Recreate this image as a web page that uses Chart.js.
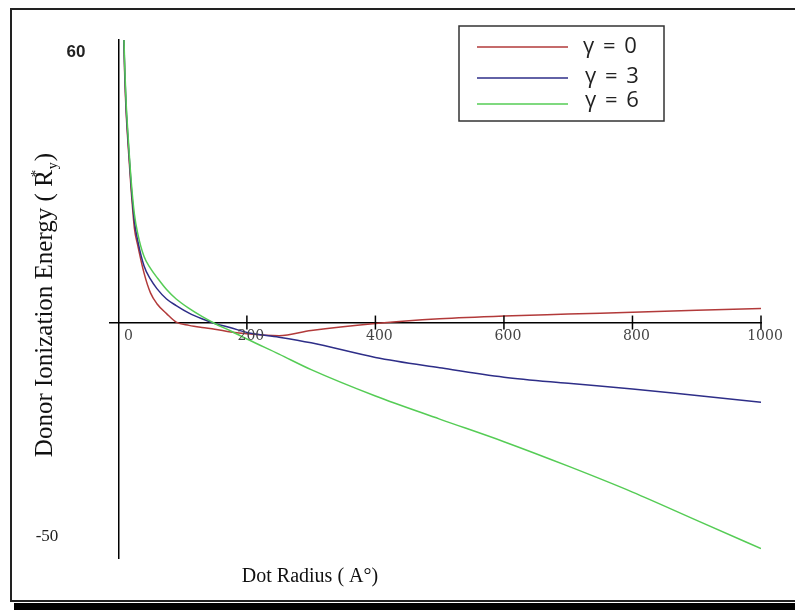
<!DOCTYPE html>
<html>
<head>
<meta charset="utf-8">
<script src="https://cdn.jsdelivr.net/npm/chart.js@4.4.1/dist/chart.umd.min.js"></script>
<style>
  html, body { margin: 0; padding: 0; background: #fff; }
</style>
</head>
<body>
<canvas id="energyChart" width="795" height="610"></canvas>
<script>
// dot radius in angstrom
const radius = [8, 10, 12, 15, 20, 25, 30, 40, 50, 60, 75, 90, 110, 130, 150, 175, 200, 250, 300, 400, 500, 600, 700, 800, 900, 1000];
// donor ionization energy (R*y) for each gamma
const gamma0 = [63, 52, 45, 38, 28, 20, 16.5, 10.5, 6.3, 4.0, 1.9, 0.1, -0.6, -1.05, -1.4, -2.0, -2.4, -2.8, -1.7, -0.2, 0.8, 1.4, 1.8, 2.2, 2.6, 3.0];
const gamma3 = [63, 53, 46, 39, 29, 21.5, 17.5, 12, 9.2, 7.2, 5.0, 3.6, 2.0, 0.8, -0.2, -1.1, -2.1, -3.1, -4.3, -7.4, -9.6, -11.6, -12.9, -14.1, -15.5, -16.9];
const gamma6 = [64, 54, 47, 40, 30, 23, 19, 14, 11.5, 9.6, 7.0, 5.0, 3.0, 1.3, -0.2, -1.8, -3.5, -6.7, -10.0, -15.6, -20.5, -25.3, -30.5, -36, -42, -48];

const seriesLabels = ['γ = 0', 'γ = 3', 'γ = 6'];
const seriesColors = ['#b23a3a', '#2e2e88', '#55cc55'];
const xTicks = [0, 200, 400, 600, 800, 1000];
const yLimits = [60, -50];

const pts = ys => radius.map((r, i) => ({ x: r, y: ys[i] }));

// frame, legend box, axis titles and tick labels (mathcad style)
const decor = {
  id: 'decor',
  afterDraw(chart) {
    const c = chart.ctx;
    const xs = chart.scales.x, ys = chart.scales.y;
    const x0 = xs.getPixelForValue(0), y0 = ys.getPixelForValue(0);
    c.save();

    // page frame with shadow at the bottom
    c.strokeStyle = '#222';
    c.lineWidth = 2;
    c.beginPath();
    c.moveTo(800, 9); c.lineTo(11, 9); c.lineTo(11, 601); c.lineTo(800, 601);
    c.stroke();
    c.fillStyle = '#000';
    c.fillRect(14, 603, 790, 8);

    // x ticks crossing the axis
    c.strokeStyle = '#000';
    c.lineWidth = 1.5;
    xTicks.forEach(v => {
      if (v === 0) return;
      const px = xs.getPixelForValue(v);
      c.beginPath(); c.moveTo(px, y0 - 7); c.lineTo(px, y0 + 7); c.stroke();
    });

    c.textBaseline = 'middle';
    c.fillStyle = '#444';
    c.font = '14px "DejaVu Serif"';
    c.textAlign = 'center';
    xTicks.forEach(v => c.fillText(String(v), xs.getPixelForValue(v) + (v === 0 ? 10 : 4), y0 + 14));

    // y limits
    c.fillStyle = '#222';
    c.textAlign = 'right';
    c.font = 'bold 17px "Liberation Sans"';
    c.fillText(String(yLimits[0]), x0 - 33, ys.getPixelForValue(yLimits[0]) + 12);
    c.font = '17px "Liberation Serif"';
    c.fillText(String(yLimits[1]), x0 - 60, ys.getPixelForValue(yLimits[1]) - 21);

    // axis titles
    c.fillStyle = '#111';
    c.textAlign = 'center';
    c.font = '20px "Liberation Serif"';
    c.fillText('Dot Radius ( A°)', 310, 577);

    c.save();
    c.translate(43, 305);
    c.rotate(-Math.PI / 2);
    c.textAlign = 'left';
    c.textBaseline = 'alphabetic';
    const main = 'Donor Ionization Energy ( R';
    c.font = '25px "Liberation Serif"';
    const wMain = c.measureText(main).width;
    const wClose = c.measureText(')').width;
    c.font = '14px "Liberation Serif"';
    const wSub = c.measureText('y').width + 2;
    let tx = -(wMain + wSub + wClose) / 2;
    c.font = '25px "Liberation Serif"';
    c.fillText(main, tx, 9);
    tx += wMain;
    c.font = '15px "Liberation Serif"';
    c.fillText('*', tx - 7, -2);
    c.font = '14px "Liberation Serif"';
    c.fillText('y', tx + 1, 14);
    c.font = '25px "Liberation Serif"';
    c.fillText(')', tx + wSub, 9);
    c.restore();

    // legend
    c.strokeStyle = '#333';
    c.lineWidth = 1.5;
    c.strokeRect(459, 26, 205, 95);
    const rowLine = [47, 78, 104];
    const rowText = [47, 77, 101];
    c.font = '22px "Open Sans"';
    c.letterSpacing = '1.5px';
    c.textAlign = 'left';
    c.fillStyle = '#222';
    chart.data.datasets.forEach((ds, i) => {
      c.strokeStyle = ds.borderColor;
      c.lineWidth = 1.5;
      c.beginPath(); c.moveTo(477, rowLine[i]); c.lineTo(568, rowLine[i]); c.stroke();
      c.fillText(ds.label, 583 + (i ? 2 : 0), rowText[i]);
    });
    c.letterSpacing = '0px';

    c.restore();
  }
};

new Chart(document.getElementById('energyChart'), {
  type: 'line',
  data: {
    datasets: [
      { label: seriesLabels[0], data: pts(gamma0), borderColor: seriesColors[0], order: 3 },
      { label: seriesLabels[1], data: pts(gamma3), borderColor: seriesColors[1], order: 2 },
      { label: seriesLabels[2], data: pts(gamma6), borderColor: seriesColors[2], order: 1 }
    ]
  },
  options: {
    responsive: false,
    animation: false,
    devicePixelRatio: 1,
    layout: { padding: { left: 110, top: 40, right: 34, bottom: 52 } },
    elements: {
      line: { borderWidth: 1.5, cubicInterpolationMode: 'monotone', fill: false },
      point: { radius: 0 }
    },
    plugins: { legend: { display: false }, tooltip: { enabled: false } },
    scales: {
      x: {
        type: 'linear', min: -13, max: 1000,
        position: { y: 0 },
        afterFit: s => { s.height = 0; },
        grid: { drawOnChartArea: false, drawTicks: false },
        border: { color: '#000', width: 1.5 },
        ticks: { display: false }
      },
      y: {
        type: 'linear', min: -50, max: 60,
        position: { x: 0 },
        afterFit: s => { s.width = 0; },
        grid: { drawOnChartArea: false, drawTicks: false },
        border: { color: '#000', width: 1.5 },
        ticks: { display: false }
      }
    }
  },
  plugins: [decor]
});
</script>
</body>
</html>
